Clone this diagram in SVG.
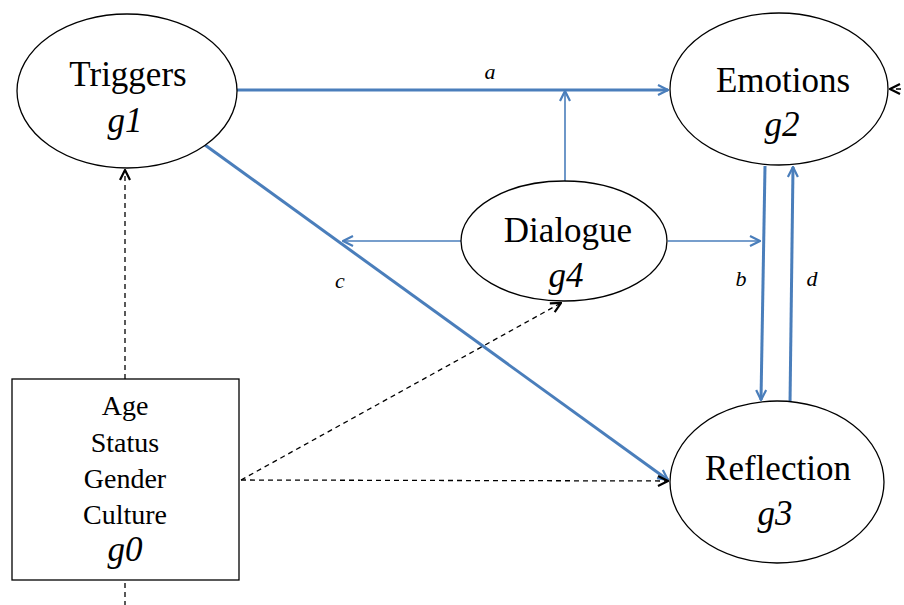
<svg xmlns="http://www.w3.org/2000/svg" width="904" height="605" viewBox="0 0 904 605">
<defs>
<style>
.node{fill:#fff;stroke:#000;stroke-width:1.3}
text{font-family:'Liberation Serif','Times New Roman',Tinos,'DejaVu Serif',serif;fill:#000;text-anchor:middle}
.t{font-size:35px}
.i{font-style:italic}
.s{font-size:28px}
.lbl{font-style:italic;font-size:22px}
.thick{stroke:#4A7EBB;stroke-width:3;fill:none}
.thin{stroke:#4A7EBB;stroke-width:1.6;fill:none}
.dash{stroke:#000;stroke-width:1.3;stroke-dasharray:5,4;fill:none}
</style>
<marker id="ab" viewBox="0 0 12 12" refX="11" refY="6" markerWidth="12" markerHeight="12" markerUnits="userSpaceOnUse" orient="auto">
<path d="M1,1 L11,6 L1,11" fill="none" stroke="#4A7EBB" stroke-width="2.2"/>
</marker>
<marker id="ak" viewBox="0 0 12 12" refX="11" refY="6" markerWidth="12" markerHeight="12" markerUnits="userSpaceOnUse" orient="auto">
<path d="M1,1 L11,6 L1,11" fill="none" stroke="#000" stroke-width="2.2"/>
</marker>
</defs>
<rect width="904" height="605" fill="#fff"/>
<g id="connectors">
<line class="thick" x1="237" y1="90" x2="668" y2="90" marker-end="url(#ab)"/>
<line class="thin" x1="565" y1="182" x2="565" y2="91" marker-end="url(#ab)"/>
<line class="thick" x1="205" y1="145" x2="668" y2="480" marker-end="url(#ab)"/>
<line class="thin" x1="461" y1="241" x2="343" y2="241" marker-end="url(#ab)"/>
<line class="thin" x1="668" y1="241" x2="760" y2="241" marker-end="url(#ab)"/>
<line class="thick" x1="765" y1="166" x2="761" y2="400" marker-end="url(#ab)"/>
<line class="thick" x1="790" y1="404" x2="793" y2="167" marker-end="url(#ab)"/>
<line class="dash" x1="125" y1="379" x2="125" y2="170" marker-end="url(#ak)"/>
<line class="dash" x1="241" y1="480" x2="668" y2="481" marker-end="url(#ak)"/>
<line class="dash" x1="241" y1="480" x2="561" y2="303" marker-end="url(#ak)"/>
<line class="dash" x1="125" y1="583" x2="125" y2="605"/>
<line class="dash" x1="910" y1="89" x2="890" y2="89" marker-end="url(#ak)"/>
<text class="lbl" x="490" y="79">a</text>
<text class="lbl" x="340" y="288">c</text>
<text class="lbl" x="741" y="286">b</text>
<text class="lbl" x="812" y="286">d</text>
</g>
<g id="g1">
<ellipse class="node" cx="127" cy="91" rx="110" ry="77"/>
<text class="t" x="128" y="86">Triggers</text>
<text class="t i" x="125" y="132">g1</text>
</g>
<g id="g2">
<ellipse class="node" cx="779" cy="89" rx="109" ry="76"/>
<text class="t" x="783" y="92">Emotions</text>
<text class="t i" x="782" y="136">g2</text>
</g>
<g id="g4">
<ellipse class="node" cx="564" cy="241" rx="103" ry="60"/>
<text class="t" x="568" y="242">Dialogue</text>
<text class="t i" x="566" y="287">g4</text>
</g>
<g id="g3">
<ellipse class="node" cx="777" cy="482" rx="107" ry="81"/>
<text class="t" x="778" y="480">Reflection</text>
<text class="t i" x="775" y="525">g3</text>
</g>
<g id="g0">
<rect class="node" x="12" y="379" width="227" height="201"/>
<text class="t s" x="125" y="415">Age</text>
<text class="t s" x="125" y="452">Status</text>
<text class="t s" x="125" y="488">Gender</text>
<text class="t s" x="125" y="524">Culture</text>
<text class="t i" x="125" y="561">g0</text>
</g>
</svg>
